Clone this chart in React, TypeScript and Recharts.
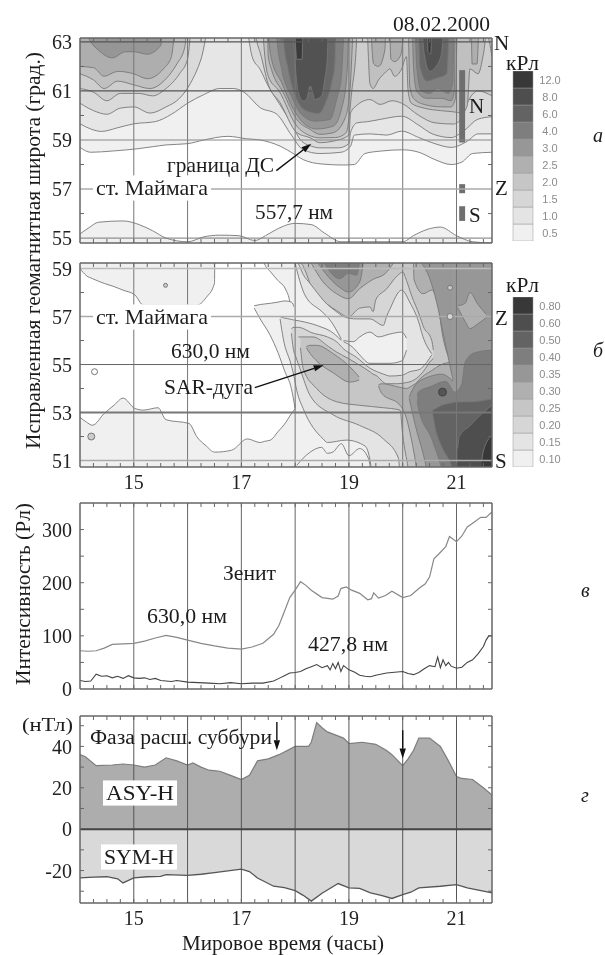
import React from 'react';
import { AreaChart, Area, LineChart, Line, XAxis, YAxis, ReferenceLine, ReferenceArea, ReferenceDot, BarChart, Bar } from 'recharts';

const QUARTERS = [14.25,14.5,14.75,15,15.25,15.5,15.75,16,16.25,16.5,16.75,17,17.25,17.5,17.75,18,18.25,18.5,18.75,19,19.25,19.5,19.75,20,20.25,20.5,20.75,21,21.25,21.5];
const HOURS = [15,16,17,18,19,20,21];
const HOUR_LABELS = [15,17,19,21];

// Panel a: [time, lat] boundary of each contour level
const A05 = [[14,58.7],[14.2,58.5],[14.6,58.55],[15.1,58.65],[15.6,58.8],[16.0,58.85],[16.3,59.0],[16.75,59.15],[17.1,59.05],[17.35,59.0],[17.72,58.75],[18.0,58.4],[18.15,58.2],[18.5,58.02],[18.9,57.98],[19.1,58.0],[19.3,58.45],[19.6,58.55],[20,58.6],[20.3,58.5],[20.6,58.2],[20.9,58],[21.1,58.1],[21.3,58.45],[21.66,58.5]];
const A10 = [[14,59.66],[14.2,59.45],[14.4,59.35],[14.7,59.5],[15,59.66],[15.4,59.75],[15.7,60.05],[16.0,60.5],[16.3,60.85],[16.6,61.1],[16.85,61.1],[17.05,60.95],[17.35,60.32],[17.66,60.05],[17.93,59.2],[18.15,58.6],[18.46,58.45],[18.85,58.5],[19.03,58.75],[19.1,59.2],[19.4,59.25],[19.7,59.2],[19.98,59.36],[20.3,59.1],[20.6,58.85],[20.9,58.7],[21.2,58.95],[21.4,59.25],[21.66,59.25]];
const A15 = [[14,60.5],[14.25,60.2],[14.5,60.05],[14.75,60.3],[15,60.35],[15.3,60.1],[15.6,60.35],[15.85,60.7],[16.05,61.3],[16.25,62.3],[16.45,64],[17.05,64],[17.2,62.4],[17.35,61.88],[17.5,61.2],[17.7,60.5],[17.95,59.6],[18.1,59.0],[18.3,58.75],[18.46,58.68],[18.8,58.68],[19.0,58.85],[19.03,59.3],[19.15,59.7],[19.35,59.75],[19.58,59.84],[19.98,59.97],[20.3,59.6],[20.55,59.25],[20.9,59.1],[21.15,59.4],[21.4,59.85],[21.66,59.95]];
const A20 = [[14,61.1],[14.25,60.95],[14.5,60.6],[14.75,60.9],[15.1,60.9],[15.35,60.8],[15.6,61.1],[15.85,61.7],[16.0,62.3],[16.1,64],[17.2,64],[17.3,62.9],[17.35,62.56],[17.5,61.27],[17.72,60.52],[18.03,59.3],[18.28,59.09],[18.46,58.89],[18.7,58.95],[19.0,59.2],[19.03,60.1],[19.14,60.4],[19.39,60.65],[19.58,60.45],[19.8,60.6],[19.98,60.5],[20.3,60.0],[20.6,59.7],[20.94,59.65],[21.1,59.9],[21.2,60.5],[21.4,61.0],[21.66,60.8]];
const A25 = [[14,61.7],[14.25,61.45],[14.45,61.1],[14.7,61.4],[15,61.25],[15.3,61.1],[15.6,61.5],[15.8,62.1],[15.95,62.8],[16.0,64],[17.4,64],[17.41,63.17],[17.5,61.6],[17.7,61],[18.03,59.57],[18.25,59.2],[18.46,59.09],[18.75,59.1],[18.95,59.3],[18.99,59.7],[19.05,60.93],[19.14,62.97],[19.16,64],[19.33,64],[19.36,62.5],[19.39,61.3],[19.45,61.1],[19.55,61.45],[19.7,61.8],[19.76,61.9],[19.85,61.6],[19.98,61.9],[20.07,62.4],[20.1,61.0],[20.16,60.5],[20.4,60.3],[20.7,60.2],[20.94,60.15],[21.1,60.1],[21.2,60.4],[21.25,61.9],[21.4,61.7],[21.5,62.5],[21.56,63.3],[21.66,62.4]];
const A30 = [[14,62.0],[14.25,61.95],[14.45,61.6],[14.7,61.8],[15,61.7],[15.25,61.5],[15.55,61.9],[15.7,62.4],[15.8,64],[17.48,64],[17.5,62.42],[17.56,61.88],[17.78,60.93],[18.03,59.84],[18.28,59.43],[18.46,59.23],[18.71,59.3],[18.93,59.9],[19.02,61.06],[19.07,63.17],[19.09,64],[19.41,64],[19.42,63.2],[19.46,62.1],[19.55,62],[19.67,62.7],[19.69,64],[19.75,64],[19.78,62.3],[19.85,62.2],[19.95,62.4],[20.0,63],[20.02,64],[20.09,64],[20.11,63],[20.13,61.2],[20.2,60.7],[20.4,60.45],[20.72,60.35],[20.9,60.35],[20.98,60.7],[21.02,64],[21.27,64],[21.29,62.1],[21.38,62.1],[21.43,64],[21.66,64]];
const A35 = [[14.0,64],[14.2,63.0],[14.35,62.65],[14.6,62.35],[14.85,62.6],[15.0,62.6],[15.25,62.5],[15.5,62.85],[15.55,64],[17.49,64],[17.51,63.17],[17.56,62.3],[17.75,61.34],[17.97,60.25],[18.15,59.7],[18.4,59.45],[18.71,59.57],[18.86,60.25],[18.96,61.6],[18.99,63.17],[19.0,64],[20.17,64],[20.2,62],[20.26,61],[20.45,60.7],[20.72,60.7],[20.9,60.6],[20.96,61],[20.98,64],[21.66,64]];
const A40 = [[14,64],[17.64,64],[17.66,63.17],[17.75,61.88],[17.93,60.79],[18.12,60.04],[18.37,59.77],[18.65,59.84],[18.77,60.65],[18.86,61.6],[18.9,63.17],[18.92,64],[20.22,64],[20.26,62],[20.35,61],[20.5,60.9],[20.65,61.1],[20.85,60.9],[20.93,61.3],[20.96,64],[21.66,64]];
const A60 = [[14,64],[17.76,64],[17.78,63.17],[17.87,61.88],[18.03,60.65],[18.22,60.18],[18.43,60.08],[18.58,60.59],[18.68,61.34],[18.74,62.15],[18.75,63.17],[18.77,64],[20.28,64],[20.32,62],[20.45,61.4],[20.6,61.5],[20.82,61.7],[20.88,64],[21.66,64]];
const A80 = [[14,64],[17.95,64],[17.97,63.17],[18.06,60.93],[18.15,60.59],[18.21,60.65],[18.28,61.2],[18.37,60.65],[18.49,60.79],[18.55,61.47],[18.6,62.42],[18.62,64],[20.33,64],[20.4,62.5],[20.5,61.8],[20.6,61.95],[20.72,62.5],[20.78,64],[21.66,64]];
const A120 = [[14,64],[17.98,64],[18.0,63.17],[18.03,62.29],[18.13,62.29],[18.14,63.17],[18.16,64],[20.45,64],[20.47,62.6],[20.52,62.5],[20.55,64],[21.66,64]];
const A_SOUTH = [[14,55.17],[14.15,55.4],[14.35,55.65],[14.8,55.7],[15.1,55.55],[15.35,55.3],[15.6,55.0],[16.0,54.85],[16.3,55.05],[16.6,55.12],[16.95,55.1],[17.25,54.9],[17.45,55.1],[17.65,55.35],[18.0,55.6],[18.3,55.55],[18.55,55.2],[18.85,54.85],[20.0,54.85],[20.2,55.1],[20.45,55.35],[20.7,55.45],[21.0,55.1],[21.3,54.85],[21.66,54.8]];

// Panel b: [time, low lat, high lat] of each contour piece
const B_ALL = [[14,50,60],[21.66,50,60]];
const B_W1 = [[14,52.8,59],[14.12,52.6,58.7],[14.23,52.47,58.58],[14.45,52.96,58.38],[14.63,53.3,58.25],[14.8,53.6,58.1],[15.02,53.17,57.9],[15.18,53.1,57.47],[15.45,53.2,57.47],[15.6,52.7,57.47],[16.03,52.54,57.47],[16.17,52,57.47],[16.35,51.6,57.8],[16.5,51.35,58.38],[16.51,51.35,60],[16.82,51.43,60],[17.11,51.9,60],[17.35,51.75,60],[17.43,51.8,59.2],[17.54,51.85,58.87],[17.68,52.2,58.5],[17.83,52.6,58.1],[17.9,52.85,57.6],[18,53.16,53.2]];
const B_BULGE = [[17.24,57.35,57.45],[17.35,56.9,57.5],[17.54,56.2,57.55],[17.68,55.5,57.6],[17.81,54.7,57.65],[17.93,54.0,57.6],[18,53.16,57.3]];
const B_L15A = [[17.72,56.9,57.0],[17.78,56.07,56.95],[17.93,54.96,56.88],[17.98,54.5,56.85]];
const B_L15R = [[17.98,54.5,60],[18.03,53.92,60],[18.15,53.16,60],[18.52,51.9,60],[18.6,51.75,60],[18.95,51.85,60],[19.3,51.6,60],[19.4,50.9,60],[19.45,50,60],[21.66,50,60]];
const B_S15 = [[18.03,50,50.8],[18.15,50,51.1],[18.28,50,51.35],[18.49,50,51.55],[18.6,50,51.3],[18.7,50,51.35],[18.86,50,51.7],[19.0,50,51.2],[19.2,50,51.5],[19.36,50,51.1],[19.4,50,50.7]];
const B_L20A = [[17.93,56.3,56.5],[17.98,55.5,56.55],[18.0,55.4,56.55]];
const B_L20R = [[18.0,55.4,60],[18.09,54.83,60],[18.28,53.7,60],[18.71,52.9,60],[19.2,52.46,60],[19.64,51.9,60],[19.92,51.1,60],[19.97,50,60],[21.66,50,60]];
const B_C15 = [[18.0,56.55,59.4],[18.06,56.55,59.2],[18.15,56.5,58.75],[18.28,56.35,58.37],[18.6,56.15,57.5],[18.77,55.95,57.2],[18.9,55.65,57.0],[19.14,55.3,56.9],[19.39,54.85,56.9],[19.64,54.6,56.63],[19.7,54.55,57.0],[19.76,54.52,57.3],[19.98,54.55,58.1],[20.13,54.7,57.6],[20.32,54.8,56.6],[20.35,54.85,56.35],[20.54,55.4,55.45]];
const B_W10 = [[17.99,56.85,59.3],[18.18,56.77,57.9],[18.5,56.55,57.2],[18.65,56.4,56.85],[18.86,56.0,56.05]];
const B_HOLE = [[18.9,55.95,56.0],[19.08,55.7,55.95],[19.2,55.4,56.15],[19.39,55.05,56.35],[19.55,55.05,56.15],[19.76,55.05,56.27],[19.98,55.15,56.35],[20.07,55.6,56.1]];
const B_L25R = [[18.1,55.7,60],[18.15,54.83,60],[18.4,54,60],[18.77,53.45,60],[19.2,53.3,60],[19.64,53.2,60],[19.95,53.1,60],[20.0,52.05,60],[20.1,50.7,60],[20.15,50,60],[21.66,50,60]];
const B_C20 = [[18.06,56.15,59.3],[18.12,56.15,59.2],[18.33,56.15,58.1],[18.62,55.75,57.47],[18.77,55.52,57.25],[18.99,55.25,56.98],[19.2,54.97,57.35],[19.39,54.7,57.4],[19.45,54.6,57.2],[19.5,54.55,57.7],[19.7,54.2,58.15],[19.9,54.2,58.7],[20.0,54.22,58.85],[20.07,54.25,58.5],[20.16,54.3,57.9],[20.32,54.55,57],[20.38,54.7,56.6],[20.54,55.2,56],[20.57,55.25,55.6]];
const B_BLOB = [[18.21,55.7,55.75],[18.28,55.45,55.8],[18.4,55.15,55.8],[18.71,54.65,55.45],[19.02,54.27,54.9],[19.19,54.35,54.48]];
const B_L30A = [[19.55,54.1,54.15],[19.61,53.8,54.2],[19.95,53.3,54.05],[20.07,52.75,54.0],[20.16,51.9,54.1],[20.26,50.7,54.25],[20.32,50,54.4],[20.54,50,54.75],[20.72,50,55.0],[20.91,50,55.1]];
const B_L30R = [[20.91,50,60],[21.66,50,60]];
const B_L30B = [[20.2,59.3,60],[20.21,58.55,60],[20.38,57.95,60],[20.54,58.1,60],[20.66,57.5,60],[20.72,56.5,60],[20.91,55.1,60]];
const B_L30C = [[18.28,59.3,60],[18.52,58.44,60],[18.77,57.95,60],[18.99,57.74,60],[19.2,58.16,60],[19.45,58.55,60],[19.67,58.78,60],[19.85,59.3,60]];
const B_L35A = [[20.12,53.6,53.65],[20.22,52.6,54.1],[20.44,50.7,54.45],[20.5,50,54.5],[20.72,50,54.6],[20.94,50,54.3]];
const B_L35R = [[20.94,50,60],[21.66,50,60]];
const B_L35B = [[20.32,59.3,60],[20.5,58.6,60],[20.63,57.6,60],[20.78,56.0,60],[20.94,54.3,60]];
const B_L35C = [[18.4,59.3,60],[18.62,58.65,60],[18.86,58.16,60],[18.99,58.02,60],[19.2,58.44,60],[19.27,59.3,60]];
const B_NOTCH = [[21.03,57.35,57.45],[21.16,56.8,57.55],[21.25,56.5,58],[21.4,56.7,57.5],[21.55,56.95,57.1]];
const B_L40A = [[20.27,53.5,53.7],[20.29,53.2,53.85],[20.54,51.9,54.1],[20.72,50.7,54.27],[20.8,50,54.3],[20.97,50,53.85],[21.1,50,54.2],[21.16,50,55.1],[21.35,50,55.5],[21.66,50,55.6]];
const B_L40C = [[18.52,59.3,60],[18.83,58.57,60],[18.99,58.8,60],[19.14,58.72,60],[19.2,59.3,60]];
const B_L50 = [[20.56,52.9,53.1],[20.6,52.4,53.15],[20.72,51.6,53.3],[20.9,50.8,53.4],[21.0,50,53.44],[21.3,50,53.45],[21.66,50,53.57]];
const B_L60 = [[21.02,50,51.5],[21.05,50,52],[21.25,50,52.45],[21.4,50,52.8],[21.66,50,53.3]];
const B_L80 = [[21.47,50,51.0],[21.5,50,51.4],[21.66,50,52.05]];

// Panel v
const V630_T = [14,14.15,14.3,14.45,14.6,14.8,15,15.2,15.4,15.6,15.8,16,16.25,16.5,16.75,17,17.2,17.4,17.6,17.7,17.8,17.9,18,18.1,18.2,18.3,18.5,18.7,18.8,18.85,18.95,19.05,19.2,19.35,19.42,19.46,19.55,19.68,19.8,20,20.15,20.3,20.42,20.5,20.58,20.68,20.8,20.87,21,21.1,21.2,21.3,21.45,21.55,21.66];
const V630 = [72,71,72,77,84,85,86,90,96,101,97,92,86,81,77,75,79,86,103,120,146,172,186,202,195,186,172,169,175,189,192,186,180,168,170,181,171,176,184,172,176,189,198,211,245,255,268,287,277,288,305,312,323,323,333];
const V428_T = [14,14.1,14.2,14.3,14.4,14.5,14.6,14.7,14.8,14.9,15,15.1,15.2,15.3,15.4,15.5,15.6,15.7,15.8,16,16.2,16.4,16.6,16.8,17,17.2,17.4,17.6,17.7,17.8,17.9,18,18.1,18.2,18.3,18.4,18.5,18.6,18.65,18.7,18.75,18.8,18.85,18.9,19,19.1,19.2,19.3,19.4,19.5,19.7,19.9,20,20.1,20.2,20.3,20.4,20.5,20.6,20.65,20.7,20.75,20.8,20.85,20.9,21,21.1,21.2,21.3,21.4,21.5,21.55,21.6,21.66];
const V428 = [16,14,15,28,24,25,21,24,20,25,21,20,21,18,20,16,15,14,16,13,12,11,10,12,10,11,11,15,20,25,30,31,33,38,42,46,40,44,36,48,38,50,33,44,36,32,26,24,23,26,30,32,33,29,27,31,38,44,42,60,40,55,44,50,43,39,41,50,55,66,80,92,100,100];

// Panel g
const G_ASY_T = [14,14.1,14.3,14.6,14.8,15,15.2,15.4,15.6,15.8,16,16.1,16.25,16.4,16.6,16.8,17,17.15,17.3,17.5,17.7,18,18.25,18.3,18.4,18.5,18.6,18.9,19,19.25,19.5,19.7,19.8,20,20.1,20.2,20.3,20.5,20.7,20.85,21,21.1,21.3,21.5,21.66];
const G_ASY = [36,35,30.7,31,31.5,31,30,31,34.5,33,31,32,30,28.5,28,26,24,26,33,34,36,40,40,42,51.5,49,47,44,41.4,42,41,38,36,30.7,34,38,44,44,40,33,25.4,24.5,24,20,16.5];
const G_SYM_T = [14,14.25,14.5,14.7,14.8,15,15.25,15.5,15.6,16,16.25,16.5,17,17.15,17.3,17.6,17.8,18,18.15,18.3,18.5,18.8,19,19.2,19.4,19.6,19.8,20,20.15,20.3,20.7,21,21.2,21.5,21.66];
const G_SYM = [-23.6,-23.2,-23,-24,-26,-23.6,-23,-22.8,-22,-22.3,-21.8,-21,-19.3,-20.5,-23.6,-27.6,-28.3,-29.7,-32,-34.8,-31,-26.3,-28.4,-28.6,-30.8,-32,-33.5,-31.6,-30.5,-28.4,-27.6,-26.8,-28.4,-30,-30.8];

const BAR_A = ['0.5','1.0','1.5','2.0','2.5','3.0','4.0','6.0','8.0','12.0'];
const BAR_B = ['0.10','0.15','0.20','0.25','0.30','0.35','0.40','0.50','0.60','0.80'];
const GREYS = ['#f0f0f0','#e4e4e4','#d6d6d6','#c6c6c6','#b0b0b0','#979797','#7e7e7e','#636363','#4e4e4e','#383838'];
const PA = ['#f0f0f0','#e6e6e6','#dadada','#cecece','#c0c0c0','#aeaeae','#969696','#808080','#686868','#525252','#3a3a3a'];
const BAR_KEYS = ['b0','b1','b2','b3','b4','b5','b6','b7','b8','b9'];
const BAR_ROW = [{ name: 'k', b0: 1, b1: 1, b2: 1, b3: 1, b4: 1, b5: 1, b6: 1, b7: 1, b8: 1, b9: 1 }];
const BAR_TICKS = [0.5,1.5,2.5,3.5,4.5,5.5,6.5,7.5,8.5,9.5];

const SERIF = '"Liberation Serif", serif';
const XD: [number, number] = [14, 21.66];
const LINE = '#777777';

const toLat = (rows: number[][]) => rows.map(([t, lat]) => ({ t, lat }));
const toRange = (rows: number[][]) => rows.map(([t, lo, hi]) => ({ t, r: [lo, hi] }));
const zip = (ts: number[], vs: number[]) => ts.map((t, i) => ({ t, v: vs[i] }));

const Arrow = (p: any) => {
  const dx = p.x2 - p.x1, dy = p.y2 - p.y1, L = Math.hypot(dx, dy), ux = dx / L, uy = dy / L;
  const hl = 10, hw = 3.2;
  const bx = p.x2 - ux * hl, by = p.y2 - uy * hl;
  return (
    <g>
      <line x1={p.x1} y1={p.y1} x2={bx} y2={by} stroke="#111" strokeWidth={1.4} />
      <polygon points={`${p.x2},${p.y2} ${bx - uy * hw},${by + ux * hw} ${bx + uy * hw},${by - ux * hw}`} fill="#111" />
    </g>
  );
};

function axes(domain: [number, number], yLabels: number[], showX: boolean) {
  const tickStyle = { fontFamily: SERIF, fontSize: 20, fill: '#222' };
  return [
    <XAxis key="xb" type="number" dataKey="t" domain={XD} allowDataOverflow ticks={HOUR_LABELS} interval={0} height={30}
      axisLine={false} tickLine={false} tickSize={0} tickMargin={8} tick={showX ? tickStyle : false} />,
    <YAxis key="yl" type="number" domain={domain} allowDataOverflow ticks={yLabels} interval={0} width={80}
      axisLine={false} tickLine={false} tickSize={0} tickMargin={8} tick={tickStyle} />,
  ];
}

// Inner ticks and the frame, drawn through the chart's scales
function frameLines(domain: [number, number], h: number, yMinor: number[]) {
  const [lo, hi] = domain;
  const dy = ((hi - lo) / h) * 4;
  const dx = (4 * (XD[1] - XD[0])) / 412;
  const tick = '#666';
  const out: any[] = [];
  QUARTERS.forEach((q) => {
    out.push(<ReferenceLine key={'qb' + q} segment={[{ x: q, y: lo }, { x: q, y: lo + dy }]} stroke={tick} strokeWidth={1} />);
    out.push(<ReferenceLine key={'qt' + q} segment={[{ x: q, y: hi - dy }, { x: q, y: hi }]} stroke={tick} strokeWidth={1} />);
  });
  yMinor.forEach((v) => {
    out.push(<ReferenceLine key={'yl' + v} segment={[{ x: XD[0], y: v }, { x: XD[0] + dx, y: v }]} stroke={tick} strokeWidth={1} />);
    out.push(<ReferenceLine key={'yr' + v} segment={[{ x: XD[1] - dx, y: v }, { x: XD[1], y: v }]} stroke={tick} strokeWidth={1} />);
  });
  out.push(<ReferenceLine key="fl" x={XD[0]} stroke="#666" strokeWidth={1.5} />);
  out.push(<ReferenceLine key="fr" x={XD[1]} stroke="#666" strokeWidth={1.5} />);
  out.push(<ReferenceLine key="fb" y={lo} stroke="#666" strokeWidth={1.5} />);
  out.push(<ReferenceLine key="ft" y={hi} stroke="#666" strokeWidth={1.5} />);
  return out;
}

const hoursLines = (stroke: string, w = 1) => HOURS.map((h) => (
  <ReferenceLine key={'h' + h} x={h} stroke={stroke} strokeWidth={w} />
));

const contour = (id: string, rows: any[], fill: string, key = 'lat', base?: number, noStroke?: boolean) => (
  <Area key={id} data={rows} dataKey={key} type="monotoneX" baseValue={base as any} fill={fill} fillOpacity={1}
    stroke={noStroke ? 'none' : LINE} strokeWidth={0.9} dot={false} activeDot={false} isAnimationActive={false} legendType="none" />
);

const chartBox = (top: number) => ({ position: 'absolute' as const, left: 0, top: top - 10 });
const MARGIN = { top: 10, right: 113, bottom: 0, left: 0 };

function ColorBar({ top, labels }: { top: number; labels: string[] }) {
  const Tick = (p: any) => (
    <text x={550} y={p.y} textAnchor="middle" dominantBaseline="central" fontFamily="Liberation Sans, sans-serif" fontSize={11} fill="#8c8c8c">
      {labels[Math.floor(p.payload.value)]}
    </text>
  );
  return (
    <div style={{ position: 'absolute', left: 0, top }}>
      <BarChart width={605} height={170} data={BAR_ROW} margin={{ top: 0, right: 42, bottom: 0, left: 513 }} barCategoryGap={0}>
        <XAxis dataKey="name" hide />
        <YAxis type="number" domain={[0, 10]} ticks={BAR_TICKS} interval={0} orientation="right" width={30} axisLine={false} tickLine={false} tick={<Tick />} />
        {BAR_KEYS.map((k, i) => (
          <Bar key={k} dataKey={k} stackId="a" fill={GREYS[i]} stroke="#9a9a9a" strokeWidth={0.5} isAnimationActive={false} />
        ))}
      </BarChart>
    </div>
  );
}

function T({ x, y, w, s = 20, italic, bg, children }: any) {
  return (
    <g>
      {bg && <rect x={x - 3} y={y - s * 0.6} width={(w || 0) + 6} height={s * 1.2} fill="#fff" />}
      <text x={x} y={y} fontFamily={SERIF} fontSize={s} fontStyle={italic ? 'italic' : 'normal'} fill="#1c1c1c"
        dominantBaseline="central" textLength={w} lengthAdjust={w ? 'spacingAndGlyphs' : undefined}>
        {children}
      </text>
    </g>
  );
}

const D_A: [number, number] = [54.8, 63.16];
const D_B: [number, number] = [50.73, 59.23];
const D_V: [number, number] = [0, 350];
const D_G: [number, number] = [-35.7, 54.7];

export default function App() {
  return (
    <div style={{ position: 'absolute', left: 0, top: 0, width: 605, height: 955, overflow: 'hidden', background: '#fff', filter: 'blur(0.45px)' }}>
      {/* Panel a */}
      <div style={chartBox(38)}>
        <AreaChart width={605} height={245} margin={MARGIN}>
          {axes(D_A, [55,57,59,61,63], false)}
          {[A05, A10, A15, A20, A25, A30, A35, A40, A60, A80, A120].map((d, i) => contour('a' + i, toLat(d), PA[i], 'lat', 70))}
          {contour('as', toLat(A_SOUTH), GREYS[0], 'lat', 50)}
          {hoursLines('#777')}
          <ReferenceLine y={63} stroke="#555" strokeWidth={1.2} />
          <ReferenceLine y={61} stroke="#555" strokeWidth={1.2} />
          <ReferenceLine y={59} stroke="#888" strokeWidth={1} />
          <ReferenceLine y={57} stroke="#aaa" strokeWidth={1.4} />
          <ReferenceLine y={55} stroke="#777" strokeWidth={1} />
          <ReferenceArea x1={21.05} x2={21.16} y1={58.9} y2={61.85} fill="#6f6f6f" fillOpacity={1} stroke="none" />
          <ReferenceArea x1={21.05} x2={21.16} y1={56.83} y2={57.2} fill="#6f6f6f" fillOpacity={1} stroke="none" />
          <ReferenceArea x1={21.05} x2={21.16} y1={55.7} y2={56.3} fill="#6f6f6f" fillOpacity={1} stroke="none" />
          {frameLines(D_A, 205, [56,58,60,62])}
          <ReferenceLine segment={[{ x: 17.65, y: 57.75 }, { x: 18.3, y: 58.85 }]} shape={<Arrow />} />
        </AreaChart>
      </div>

      {/* Panel b */}
      <div style={chartBox(263)}>
        <AreaChart width={605} height={244} margin={MARGIN}>
          {axes(D_B, [51,53,55,57,59], true)}
          {contour('b0', toRange(B_ALL), GREYS[0], 'r')}
          {contour('w1', toRange(B_W1), '#ffffff', 'r')}
          {contour('bulge', toRange(B_BULGE), GREYS[0], 'r')}
          {contour('l15a', toRange(B_L15A), GREYS[1], 'r')}
          {contour('l15r', toRange(B_L15R), GREYS[1], 'r')}
          {contour('s15', toRange(B_S15), GREYS[0], 'r')}
          {contour('l20a', toRange(B_L20A), GREYS[2], 'r')}
          {contour('l20r', toRange(B_L20R), GREYS[2], 'r')}
          {contour('l25r', toRange(B_L25R), GREYS[3], 'r')}
          {contour('c20', toRange(B_C20), GREYS[2], 'r')}
          {contour('c15', toRange(B_C15), GREYS[1], 'r')}
          {contour('w10', toRange(B_W10), GREYS[0], 'r')}
          {contour('hole', toRange(B_HOLE), GREYS[0], 'r')}
          {contour('blob', toRange(B_BLOB), GREYS[4], 'r')}
          {[B_L30A, B_L30B, B_L30C].map((d, i) => contour('l30' + i, toRange(d), GREYS[4], 'r'))}
          {contour('l30r', toRange(B_L30R), GREYS[4], 'r', undefined, true)}
          {[B_L35A, B_L35B, B_L35C].map((d, i) => contour('l35' + i, toRange(d), GREYS[5], 'r'))}
          {contour('l35r', toRange(B_L35R), GREYS[5], 'r', undefined, true)}
          {contour('notch', toRange(B_NOTCH), GREYS[4], 'r')}
          {[B_L40A, B_L40C].map((d, i) => contour('l40' + i, toRange(d), GREYS[6], 'r'))}
          {contour('l50', toRange(B_L50), GREYS[7], 'r')}
          {contour('l60', toRange(B_L60), GREYS[8], 'r')}
          {contour('l80', toRange(B_L80), GREYS[9], 'r')}
          {hoursLines('#777')}
          <ReferenceLine y={59} stroke="#bbb" strokeWidth={1.6} />
          <ReferenceLine y={57} stroke="#aaa" strokeWidth={1.6} />
          <ReferenceLine y={55} stroke="#666" strokeWidth={1} />
          <ReferenceLine y={53} stroke="#777" strokeWidth={1.8} />
          <ReferenceLine y={51} stroke="#aaa" strokeWidth={1.6} />
          <ReferenceDot x={14.27} y={54.7} r={3} fill="#fff" stroke="#777" />
          <ReferenceDot x={14.21} y={52} r={3.5} fill="#ccc" stroke="#777" />
          <ReferenceDot x={15.59} y={58.3} r={2} fill="#ccc" stroke="#777" />
          <ReferenceDot x={20.74} y={53.85} r={4} fill="#555" stroke="#444" />
          <ReferenceDot x={20.88} y={58.2} r={2.5} fill="#c6c6c6" stroke="#777" />
          <ReferenceDot x={20.88} y={57} r={3} fill="#d6d6d6" stroke="#777" />
          {frameLines(D_B, 204, [52,54,56,58])}
          <ReferenceLine segment={[{ x: 17.25, y: 54.04 }, { x: 18.53, y: 54.97 }]} shape={<Arrow />} />
        </AreaChart>
      </div>

      {/* Panel v */}
      <div style={chartBox(503)}>
        <LineChart width={605} height={226} margin={MARGIN}>
          {axes(D_V, [0,100,200,300], false)}
          {hoursLines('#666')}
          <Line data={zip(V630_T, V630)} dataKey="v" type="linear" stroke="#888" strokeWidth={1.2} dot={false} activeDot={false} isAnimationActive={false} />
          <Line data={zip(V428_T, V428)} dataKey="v" type="linear" stroke="#444" strokeWidth={1.1} dot={false} activeDot={false} isAnimationActive={false} />
          {frameLines(D_V, 186, [50,100,150,200,250,300])}
        </LineChart>
      </div>

      {/* Panel g */}
      <div style={chartBox(716)}>
        <AreaChart width={605} height={227} margin={MARGIN}>
          {axes(D_G, [-20,0,20,40], true)}
          <Area data={zip(G_ASY_T, G_ASY)} dataKey="v" baseValue={0} type="linear" fill="#adadad" fillOpacity={1} stroke="#7d7d7d" strokeWidth={1.2} dot={false} activeDot={false} isAnimationActive={false} />
          <Area data={zip(G_SYM_T, G_SYM)} dataKey="v" baseValue={0} type="linear" fill="#d9d9d9" fillOpacity={1} stroke="#555" strokeWidth={1.3} dot={false} activeDot={false} isAnimationActive={false} />
          {hoursLines('#555')}
          <ReferenceLine y={0} stroke="#444" strokeWidth={2} />
          {frameLines(D_G, 187, [-30,-20,-10,10,20,30,40,50])}
          <ReferenceLine segment={[{ x: 17.66, y: 51.8 }, { x: 17.66, y: 38.2 }]} shape={<Arrow />} />
          <ReferenceLine segment={[{ x: 20, y: 47.8 }, { x: 20, y: 34.2 }]} shape={<Arrow />} />
        </AreaChart>
      </div>

      <ColorBar top={71} labels={BAR_A} />
      <ColorBar top={297} labels={BAR_B} />

      <svg width={605} height={955} style={{ position: 'absolute', left: 0, top: 0, pointerEvents: 'none' }}>
        <T x={393} y={24} w={97} s={21}>08.02.2000</T>
        <T x={494} y={43} s={21}>N</T>
        <T x={469} y={106} s={21}>N</T>
        <T x={495} y={188} s={21}>Z</T>
        <T x={469} y={215} s={21}>S</T>
        <T x={506} y={63} w={33} s={20}>кРл</T>
        <T x={96} y={188} w={112} s={21} bg>ст. Маймага</T>
        <T x={167} y={165} w={107} s={21}>граница ДС</T>
        <T x={255} y={212} w={78} s={21}>557,7 нм</T>

        <T x={96} y={317} w={112} s={21} bg>ст. Маймага</T>
        <T x={171} y={351} w={79} s={21}>630,0 нм</T>
        <T x={164} y={387} w={89} s={21}>SAR-дуга</T>
        <T x={495} y={318} s={21}>Z</T>
        <T x={495} y={461} s={21}>S</T>
        <T x={506} y={285} w={33} s={20}>кРл</T>

        <T x={223} y={573} w={53} s={21}>Зенит</T>
        <T x={147} y={616} w={80} s={21}>630,0 нм</T>
        <T x={308} y={644} w={80} s={21}>427,8 нм</T>

        <T x={90} y={737} w={182} s={20}>Фаза расш. суббури</T>
        <T x={22} y={724} w={51} s={19}>(нТл)</T>
        <T x={106} y={793} w={68} s={21} bg>ASY-H</T>
        <T x={104} y={857} w={70} s={21} bg>SYM-H</T>
        <T x={182} y={943} w={202} s={20}>Мировое время (часы)</T>

        <T x={593} y={135} s={20} italic>а</T>
        <T x={593} y={350} s={20} italic>б</T>
        <T x={581} y={590} s={20} italic>в</T>
        <T x={581} y={795} s={20} italic>г</T>

        <g transform="rotate(-90 33 251)"><T x={33 - 198} y={251} w={397} s={21}>Исправленная геомагнитная широта (град.)</T></g>
        <g transform="rotate(-90 23 594)"><T x={23 - 91} y={594} w={182} s={21}>Интенсивность (Рл)</T></g>
      </svg>
    </div>
  );
}
